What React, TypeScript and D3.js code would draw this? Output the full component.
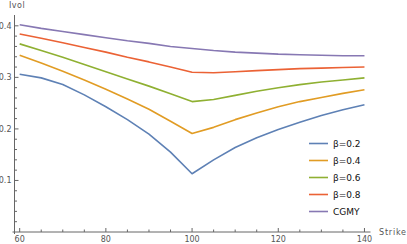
import React from 'react';
import * as d3 from 'd3';

const strikes = [60, 65, 70, 75, 80, 85, 90, 95, 100, 105, 110, 115, 120, 125, 130, 135, 140];
const beta02 = [0.306, 0.299, 0.286, 0.266, 0.243, 0.218, 0.190, 0.155, 0.113, 0.140, 0.164, 0.183, 0.199, 0.213, 0.226, 0.237, 0.247];
const beta04 = [0.343, 0.328, 0.312, 0.295, 0.277, 0.258, 0.238, 0.215, 0.191, 0.203, 0.218, 0.231, 0.243, 0.253, 0.261, 0.269, 0.276];
const beta06 = [0.365, 0.352, 0.339, 0.325, 0.311, 0.297, 0.283, 0.268, 0.253, 0.257, 0.265, 0.273, 0.280, 0.286, 0.291, 0.295, 0.299];
const beta08 = [0.384, 0.376, 0.367, 0.358, 0.349, 0.339, 0.330, 0.320, 0.310, 0.309, 0.311, 0.313, 0.315, 0.317, 0.318, 0.319, 0.320];
const cgmy = [0.402, 0.395, 0.389, 0.383, 0.377, 0.371, 0.366, 0.360, 0.356, 0.352, 0.349, 0.347, 0.345, 0.344, 0.343, 0.342, 0.342];

const seriesNames = ['β=0.2', 'β=0.4', 'β=0.6', 'β=0.8', 'CGMY'];
const seriesValues = [beta02, beta04, beta06, beta08, cgmy];
const seriesColors = ['#5E81B5', '#E19C24', '#8FB032', '#EB6235', '#8778B3'];

const xTicks = [60, 80, 100, 120, 140];
const yTicks = [0.1, 0.2, 0.3, 0.4];

const W = 407;
const H = 244;

const App = () => {
    const x = d3.scaleLinear().domain([58.8, 141.4]).range([14.5, 370.5]);
    const y = d3.scaleLinear().domain([0, 0.421]).range([232, 15]);
    const axisColor = '#666';
    const font = "'DejaVu Sans', sans-serif";

    const line = d3.line<number>()
        .x((_, i) => x(strikes[i]))
        .y(d => y(d));

    const xMinor = d3.range(60, 141, 5).filter(v => !xTicks.includes(v));
    const yMinor = d3.range(0.02, 0.42, 0.02).filter(v => !yTicks.some(t => Math.abs(t - v) < 1e-6));

    const x0 = x.range()[0];
    const y0 = y.range()[0];

    return (
        <svg width={W} height={H} style={{ position: 'absolute', left: 0, top: 0, background: '#fff' }}>
            {/* axes */}
            <line x1={x0 - 2} x2={x.range()[1]} y1={y0} y2={y0} stroke={axisColor} strokeWidth={1} />
            <line x1={x0} x2={x0} y1={y0 + 2} y2={y.range()[1]} stroke={axisColor} strokeWidth={1} />

            {xTicks.map(t => (
                <g key={'xt' + t}>
                    <line x1={x(t)} x2={x(t)} y1={y0} y2={y0 - 4} stroke={axisColor} />
                    <text x={x(t)} y={y0 + 10} textAnchor="middle" fontSize={8} fill="#555" fontFamily={font}>{t}</text>
                </g>
            ))}
            {xMinor.map(t => (
                <line key={'xm' + t} x1={x(t)} x2={x(t)} y1={y0} y2={y0 - 2.5} stroke={axisColor} />
            ))}
            {yTicks.map(t => (
                <g key={'yt' + t}>
                    <line x1={x0} x2={x0 + 4} y1={y(t)} y2={y(t)} stroke={axisColor} />
                    <text x={x0 - 3} y={y(t) + 3} textAnchor="end" fontSize={8} fill="#555" fontFamily={font}>{t.toFixed(1)}</text>
                </g>
            ))}
            {yMinor.map(t => (
                <line key={'ym' + t.toFixed(2)} x1={x0} x2={x0 + 2.5} y1={y(t)} y2={y(t)} stroke={axisColor} />
            ))}

            <text x={9} y={8} fontSize={8} fill="#555" fontFamily={font} letterSpacing={0.5}>Ivol</text>
            <text x={379} y={235} fontSize={8} fill="#555" fontFamily={font} letterSpacing={0.8}>Strike</text>

            {/* curves */}
            {seriesValues.map((vals, i) => (
                <path key={seriesNames[i]} d={line(vals) || ''} fill="none" stroke={seriesColors[i]} strokeWidth={1.6} strokeLinejoin="round" />
            ))}

            {/* legend */}
            {seriesNames.map((name, i) => (
                <g key={'lg' + name} transform={`translate(309, ${143.5 + i * 17})`}>
                    <line x1={0} x2={19} y1={0} y2={0} stroke={seriesColors[i]} strokeWidth={1.6} />
                    <text x={24} y={3.2} fontSize={9} fill="#111" fontFamily={font}>{name}</text>
                </g>
            ))}
        </svg>
    );
};

export default App;
